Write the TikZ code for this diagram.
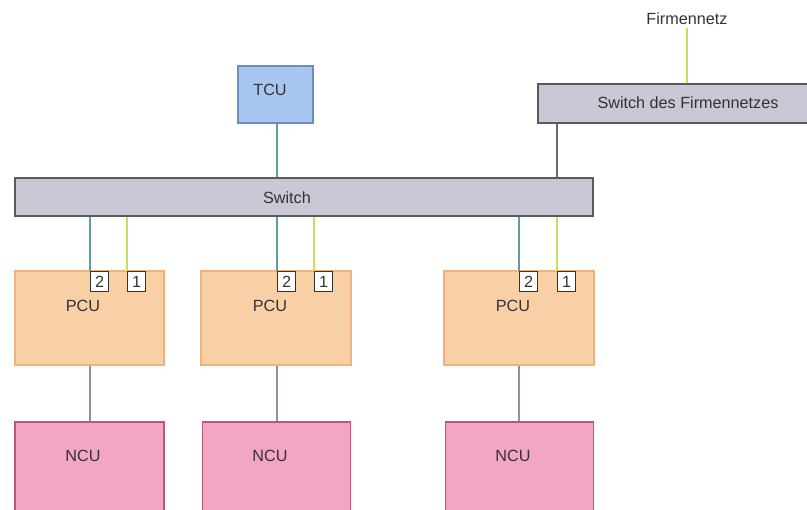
\documentclass[tikz,border=0pt]{standalone}
\usepackage{fontspec}
\setmainfont{Liberation Sans}
\definecolor{tcublue}{HTML}{A9C6F2}
\definecolor{tcuedge}{HTML}{6C8EBF}
\definecolor{swgrey}{HTML}{C9C8D4}
\definecolor{swedge}{HTML}{5A5A5A}
\definecolor{pcuorange}{HTML}{F9CFA6}
\definecolor{pcuedge}{HTML}{EDB27E}
\definecolor{ncupink}{HTML}{F3A6C4}
\definecolor{ncuedge}{HTML}{B9557F}
\definecolor{lnteal}{HTML}{5E9EA0}
\definecolor{lnyellow}{HTML}{D2DC5A}
\definecolor{lnmauve}{HTML}{A08898}
\definecolor{lngrey}{HTML}{6A6A6A}
\usetikzlibrary{positioning, calc}

\begin{document}
\begin{tikzpicture}[
  x=1pt, y=-1pt,
  every node/.style={font=\fontsize{16.2}{18}\selectfont, text=black!80, inner sep=0pt},
  box/.style={rectangle, draw, line width=1.5pt},
  port/.style={box, fill=white, draw=black!80, line width=1.3pt,
               minimum width=18pt, minimum height=20pt, anchor=north west},
  wire/.style={line width=2.8pt},
]
  \useasboundingbox (0,0) rectangle (807,510);

  % Top - TCU and company network
  \node[box, fill=tcublue, draw=tcuedge, minimum width=75pt, minimum height=57pt] (tcu) at (275.5,94.5) {};
  \node (tcut) at (270,90) {TCU};
  \node (net) at (687,19) {Firmennetz};
  \node[box, fill=swgrey, draw=swedge, minimum width=274pt, minimum height=39pt] (fsw) at (675,103.5) {};
  \node (fswt) at (688,103) {Switch des Firmennetzes};

  % Main switch
  \node[box, fill=swgrey, draw=swedge, minimum width=578pt, minimum height=38pt] (sw) at (304,197) {};
  \node (swt) at (287,198) {Switch};

  % Row PCU
  \node[box, fill=pcuorange, draw=pcuedge, minimum width=149pt, minimum height=94pt] (pcuA) at (89.5,318) {};
  \node[box, fill=pcuorange, draw=pcuedge, minimum width=150pt, minimum height=94pt] (pcuB) at (276,318) {};
  \node[box, fill=pcuorange, draw=pcuedge, minimum width=150pt, minimum height=94pt] (pcuC) at (519,318) {};
  \node (pcuAt) at ($(pcuA.north)+(-6.5,36)$) {PCU};
  \node (pcuBt) at ($(pcuB.north)+(-6,36)$) {PCU};
  \node (pcuCt) at ($(pcuC.north)+(-6,36)$) {PCU};

  % Ports
  \node[port] (pAtwo) at (90,271) {2};
  \node[port] (pAone) at (127,271) {1};
  \node[port] (pBtwo) at (277,271) {2};
  \node[port] (pBone) at (314,271) {1};
  \node[port] (pCtwo) at (519,271) {2};
  \node[port] (pCone) at (557,271) {1};

  % Row NCU
  \node[box, fill=ncupink, draw=ncuedge, minimum width=149pt, minimum height=100pt] (ncuA) at (89.5,472) {};
  \node[box, fill=ncupink, draw=ncuedge, minimum width=148pt, minimum height=100pt] (ncuB) at (276.5,472) {};
  \node[box, fill=ncupink, draw=ncuedge, minimum width=148pt, minimum height=100pt] (ncuC) at (519.5,472) {};
  \node (ncuAt) at ($(ncuA.north)+(-6.5,35)$) {NCU};
  \node (ncuBt) at ($(ncuB.north)+(-6.5,35)$) {NCU};
  \node (ncuCt) at ($(ncuC.north)+(-6.5,35)$) {NCU};

  % Wires
  \draw[wire, lnyellow] (net.south) ++(0,3) -- (fsw.north -| net.south);
  \draw[wire, lngrey] (pCone.north west |- fsw.south) -- (pCone.north west |- sw.north);
  \draw[wire, lnteal] (tcu.south -| pBtwo.north west) -- (pBtwo.north west |- sw.north);
  \draw[wire, lnteal] (pAtwo.north west) -- (pAtwo.north west |- sw.south);
  \draw[wire, lnyellow] (pAone.north west) -- (pAone.north west |- sw.south);
  \draw[wire, lnteal] (pBtwo.north west) -- (pBtwo.north west |- sw.south);
  \draw[wire, lnyellow] (pBone.north west) -- (pBone.north west |- sw.south);
  \draw[wire, lnteal] (pCtwo.north west) -- (pCtwo.north west |- sw.south);
  \draw[wire, lnyellow] (pCone.north west) -- (pCone.north west |- sw.south);
  \draw[wire, lnmauve] (pcuA.south -| pAtwo.north west) -- (ncuA.north -| pAtwo.north west);
  \draw[wire, lnmauve] (pcuB.south -| pBtwo.north west) -- (ncuB.north -| pBtwo.north west);
  \draw[wire, lnmauve] (pcuC.south -| pCtwo.north west) -- (ncuC.north -| pCtwo.north west);
\end{tikzpicture}
\end{document}
